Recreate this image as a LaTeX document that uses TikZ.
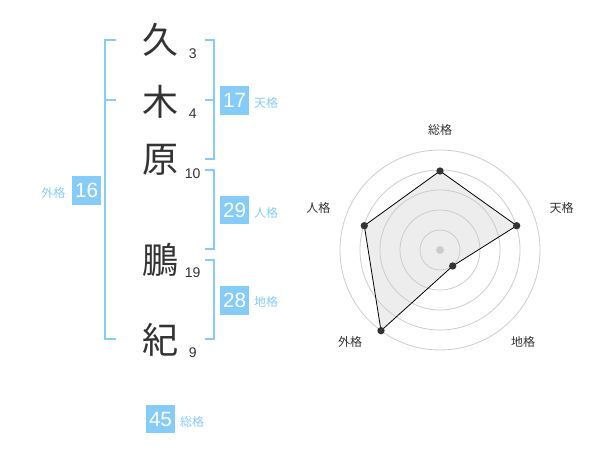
\documentclass[tikz,border=0pt]{standalone}
\usepackage{fontspec}
\setmainfont{Liberation Sans}
\newfontfamily\jpfont{Noto Sans CJK JP}
\definecolor{sky}{HTML}{85CDF8}
\definecolor{ink}{HTML}{333333}
\definecolor{ring}{HTML}{CCCCCC}
\begin{document}
\begin{tikzpicture}[x=0.75pt,y=-0.75pt,
  kanji/.style={font=\jpfont\fontsize{27}{27}\selectfont, text=ink, inner sep=0},
  strokes/.style={font=\fontsize{10.5}{10.5}\selectfont, text=ink, inner sep=0},
  numbox/.style={fill=sky, text=white, minimum width=21.5pt, minimum height=21.5pt, inner sep=0, font=\fontsize{15.5}{15.5}\selectfont},
  kaku/.style={font=\jpfont\fontsize{9}{9}\selectfont, text=sky, inner sep=0},
  brk/.style={draw=sky, line width=1.5pt},
  axislabel/.style={font=\jpfont\fontsize{9}{9}\selectfont, text=ink, inner sep=0},
  ringline/.style={draw=ring, line width=0.6pt},
  dot/.style={circle, fill=ink, minimum size=5.5pt, inner sep=0},
]
\useasboundingbox (0,0) rectangle (600,470);
% characters
\node[kanji] (k1) at (160,40) {久};
\node[kanji] (k2) at (160,101.7) {木};
\node[kanji] (k3) at (160,160) {原};
\node[kanji] (k4) at (160,260) {鵬};
\node[kanji] (k5) at (160,340) {紀};
\node[strokes] (s1) at (192.7,53.3) {3};
\node[strokes] (s2) at (192.7,113.3) {4};
\node[strokes] (s3) at (192.7,173.3) {10};
\node[strokes] (s4) at (192.7,272.3) {19};
\node[strokes] (s5) at (192.7,352.3) {9};
% brackets
\draw[brk] (116,40) -- (105,40) -- (105,339) -- (116,339);
\draw[brk] (105,100) -- (116,100);
\draw[brk] (205,40) -- (214,40) -- (214,159) -- (205,159);
\draw[brk] (205,100) -- (214,100);
\draw[brk] (205,170) -- (214,170) -- (214,249) -- (205,249);
\draw[brk] (205,260) -- (214,260) -- (214,339) -- (205,339);
% boxes
\node[numbox] (ten) at (234.7,100.5) {17};
\node[kaku] (tenl) at (266,103) {天格};
\node[numbox] (jin) at (234.7,210) {29};
\node[kaku] (jinl) at (266,213) {人格};
\node[numbox] (chi) at (234.7,300.5) {28};
\node[kaku] (chil) at (266,302) {地格};
\node[numbox] (gai) at (86.7,190.5) {16};
\node[kaku] (gail) at (53.3,193.3) {外格};
\node[numbox] (sou) at (160.5,419) {45};
\node[kaku] (soul) at (192,422) {総格};
% radar
\coordinate (c) at (440,250);
\coordinate (p1) at (440,171);
\coordinate (p2) at (516.7,225.7);
\coordinate (p3) at (452.7,266);
\coordinate (p4) at (381,330.7);
\coordinate (p5) at (364.3,225.7);
\fill[black!7] (p1) -- (p2) -- (p3) -- (p4) -- (p5) -- cycle;
\foreach \r in {20,40,60,80,100} \draw[ringline] (c) circle[radius=\r];
\draw[black, line width=0.6pt] (p1) -- (p2) -- (p3) -- (p4) -- (p5) -- cycle;
\node[circle, fill=ring, minimum size=6pt, inner sep=0] (cd) at (c) {};
\node[dot] (d1) at (p1) {};
\node[dot] (d2) at (p2) {};
\node[dot] (d3) at (p3) {};
\node[dot] (d4) at (p4) {};
\node[dot] (d5) at (p5) {};
\node[axislabel] (a1) at (440,130) {総格};
\node[axislabel] (a2) at (561.7,208.3) {天格};
\node[axislabel] (a3) at (523,341.7) {地格};
\node[axislabel] (a4) at (350,341.7) {外格};
\node[axislabel] (a5) at (318.3,208.3) {人格};
\end{tikzpicture}
\end{document}
